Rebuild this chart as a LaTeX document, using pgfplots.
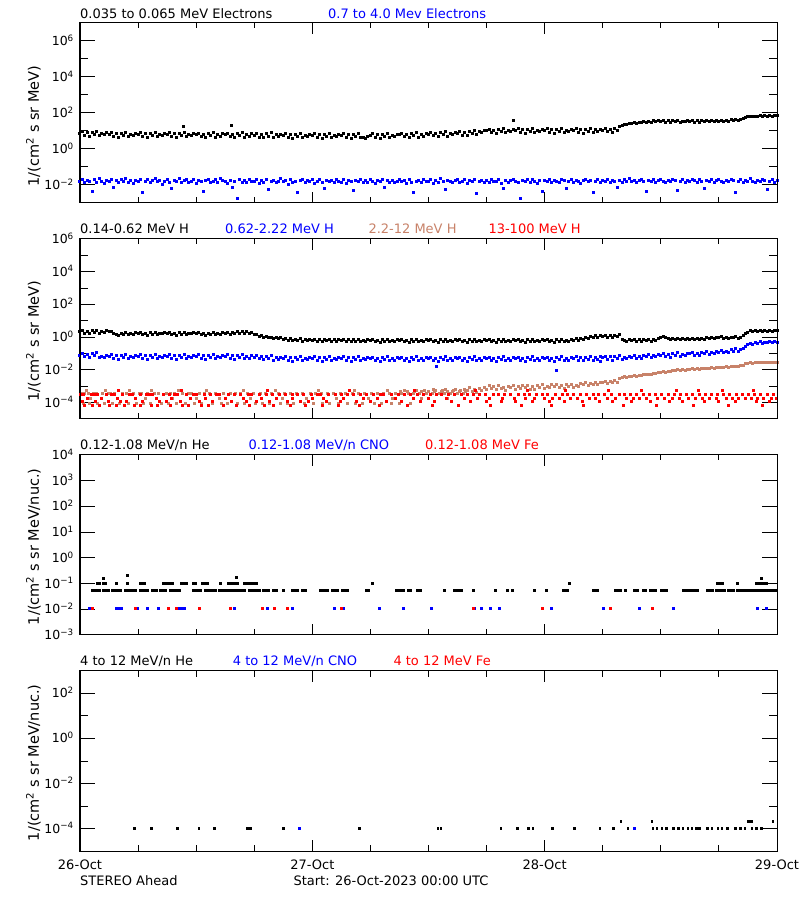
\documentclass[border=0pt]{standalone}
\usepackage{fontspec}
\setmainfont{DejaVu Sans}
\usepackage{pgfplots}
\usepackage{pgfplotstable}
\pgfplotsset{compat=1.18}
\definecolor{hbrown}{RGB}{200,130,105}
\definecolor{iblue}{RGB}{0,0,255}
\definecolor{ired}{RGB}{255,0,0}

\pgfplotstableread{
h E1 E2 H1 H2
0.00 7.2 0.016 2.2 0.080
0.25 9.0 0.021 2.5 0.100
0.50 5.8 0.013 1.8 0.064
0.75 8.1 0.018 2.3 0.090
1.00 5.2 0.015 1.7 0.058
1.25 8.6 0.0045 2.4 0.104
1.50 6.5 0.019 2.0 0.072
1.75 9.4 0.014 2.6 0.110
2.00 5.5 0.022 1.8 0.055
2.25 7.6 0.016 2.2 0.070
2.50 6.2 0.012 1.9 0.059
2.75 8.4 0.018 2.4 0.080
3.00 6.3 0.015 2.1 0.065
3.25 8.0 0.020 2.3 0.083
3.50 5.0 0.0075 1.8 0.052
3.75 7.1 0.017 1.5 0.073
4.00 4.4 0.013 1.3 0.046
4.25 7.6 0.019 1.7 0.078
4.50 5.7 0.016 1.5 0.058
4.75 8.5 0.024 1.9 0.088
5.00 4.8 0.014 1.4 0.050
5.25 6.7 0.018 1.8 0.069
5.50 5.4 0.012 1.5 0.056
5.75 7.4 0.017 1.9 0.077
6.00 6.3 0.015 1.7 0.065
6.25 8.1 0.021 2.0 0.083
6.50 5.0 0.0038 1.4 0.052
6.75 7.1 0.016 1.8 0.073
7.00 4.4 0.019 1.3 0.046
7.25 7.6 0.013 1.9 0.078
7.50 5.7 0.017 1.5 0.058
7.75 8.5 0.022 2.0 0.088
8.00 4.8 0.015 1.4 0.050
8.25 6.7 0.018 1.8 0.069
8.50 5.4 0.011 1.6 0.056
8.75 7.4 0.016 1.9 0.077
9.00 6.3 0.020 1.7 0.065
9.25 8.1 0.014 2.0 0.083
9.50 5.0 0.0062 1.4 0.052
9.75 7.1 0.018 1.8 0.073
10.00 4.4 0.015 1.3 0.046
10.25 7.6 0.023 1.9 0.078
10.50 5.7 0.013 1.5 0.058
10.75 8.5 0.017 2.0 0.088
11.00 4.8 0.019 1.4 0.050
11.25 6.7 0.014 1.8 0.069
11.50 5.4 0.016 1.6 0.056
11.75 7.4 0.021 1.9 0.077
12.00 6.0 0.012 1.6 0.065
12.25 7.7 0.018 1.9 0.083
12.50 4.8 0.015 1.4 0.052
12.75 6.7 0.0042 1.8 0.073
13.00 4.2 0.017 1.3 0.046
13.25 7.2 0.020 1.8 0.078
13.50 5.4 0.013 1.5 0.058
13.75 8.1 0.016 1.9 0.088
14.00 4.6 0.019 1.4 0.050
14.25 6.4 0.014 1.8 0.069
14.50 5.2 0.022 1.5 0.056
14.75 7.1 0.017 1.9 0.077
15.00 6.0 0.015 1.7 0.065
15.25 7.7 0.012 2.0 0.083
15.50 4.8 0.018 1.5 0.052
15.75 6.7 0.0070 1.9 0.073
16.00 4.2 0.016 1.6 0.044
16.25 7.2 0.0017 2.2 0.074
16.50 5.4 0.020 1.8 0.055
16.75 8.1 0.014 2.3 0.083
17.00 4.6 0.017 1.7 0.047
17.25 6.4 0.013 2.1 0.065
17.50 5.2 0.021 1.8 0.053
17.75 7.1 0.016 1.9 0.073
18.00 5.8 0.015 1.5 0.061
18.25 7.4 0.019 1.4 0.078
18.50 4.6 0.012 1.1 0.049
18.75 6.5 0.017 1.2 0.069
19.00 4.1 0.014 1.0 0.042
19.25 7.0 0.020 1.15 0.070
19.50 5.2 0.0055 0.92 0.050
19.75 7.8 0.016 1.0 0.075
20.00 4.5 0.018 0.78 0.040
20.25 6.2 0.013 0.92 0.056
20.50 5.0 0.016 0.80 0.045
20.75 6.8 0.022 0.90 0.061
21.00 5.6 0.015 0.72 0.050
21.25 7.2 0.017 0.84 0.064
21.50 4.5 0.011 0.66 0.040
21.75 6.3 0.019 0.78 0.056
22.00 3.9 0.014 0.62 0.035
22.25 6.7 0.016 0.76 0.060
22.50 5.0 0.0036 0.64 0.045
22.75 7.6 0.018 0.79 0.068
23.00 4.3 0.021 0.58 0.038
23.25 5.9 0.013 0.72 0.053
23.50 4.8 0.017 0.60 0.043
23.75 6.6 0.015 0.74 0.059
24.00 5.6 0.019 0.66 0.050
24.25 7.2 0.012 0.76 0.064
24.50 4.5 0.016 0.56 0.040
24.75 6.3 0.020 0.70 0.056
25.00 3.9 0.014 0.54 0.035
25.25 6.7 0.0066 0.72 0.060
25.50 5.0 0.017 0.60 0.045
25.75 7.6 0.015 0.74 0.068
26.00 4.3 0.018 0.55 0.038
26.25 5.9 0.013 0.69 0.053
26.50 4.8 0.021 0.58 0.043
26.75 6.6 0.016 0.71 0.059
27.00 5.6 0.014 0.62 0.050
27.25 7.2 0.019 0.74 0.064
27.50 4.5 0.012 0.53 0.040
27.75 6.3 0.017 0.68 0.056
28.00 3.9 0.015 0.52 0.035
28.25 6.7 0.0048 0.70 0.060
28.50 5.0 0.018 0.57 0.045
28.75 7.6 0.016 0.72 0.068
29.00 4.3 0.020 0.53 0.038
29.25 4.6 0.013 0.67 0.053
29.50 3.6 0.017 0.56 0.043
29.75 4.9 0.014 0.70 0.059
30.00 5.6 0.019 0.60 0.047
30.25 7.2 0.016 0.72 0.060
30.50 4.5 0.012 0.52 0.038
30.75 6.3 0.018 0.67 0.053
31.00 3.9 0.015 0.50 0.033
31.25 6.7 0.021 0.69 0.056
31.50 5.0 0.0072 0.56 0.042
31.75 7.6 0.017 0.71 0.063
32.00 4.3 0.014 0.52 0.036
32.25 5.9 0.018 0.66 0.050
32.50 4.8 0.013 0.55 0.040
32.75 6.6 0.016 0.69 0.055
33.00 6.0 0.020 0.60 0.047
33.25 7.7 0.015 0.72 0.060
33.50 4.8 0.017 0.52 0.038
33.75 6.7 0.012 0.67 0.053
34.00 4.2 0.019 0.50 0.033
34.25 7.2 0.014 0.69 0.056
34.50 5.4 0.0040 0.56 0.042
34.75 8.1 0.016 0.71 0.063
35.00 4.6 0.018 0.52 0.036
35.25 6.4 0.013 0.66 0.050
35.50 5.2 0.021 0.55 0.040
35.75 7.1 0.016 0.69 0.055
36.00 6.6 0.015 0.60 0.047
36.25 8.4 0.019 0.72 0.060
36.50 5.3 0.012 0.52 0.038
36.75 7.4 0.017 0.67 0.053
37.00 4.7 0.014 0.50 0.033
37.25 8.0 0.022 0.69 0.056
37.50 6.0 0.016 0.56 0.042
37.75 8.9 0.0058 0.71 0.063
38.00 5.2 0.018 0.52 0.036
38.25 7.3 0.015 0.66 0.050
38.50 6.0 0.013 0.55 0.040
38.75 8.1 0.017 0.69 0.055
39.00 7.4 0.020 0.60 0.047
39.25 9.5 0.014 0.72 0.060
39.50 5.9 0.016 0.52 0.038
39.75 8.3 0.019 0.67 0.053
40.00 5.6 0.012 0.50 0.033
40.25 9.5 0.017 0.69 0.056
40.50 7.1 0.015 0.56 0.042
40.75 10.6 0.021 0.71 0.063
41.00 6.6 0.0035 0.52 0.036
41.25 9.2 0.016 0.66 0.050
41.50 7.8 0.018 0.55 0.040
41.75 10.5 0.013 0.69 0.055
42.00 10.0 0.017 0.60 0.047
42.25 12.8 0.014 0.72 0.060
42.50 8.0 0.020 0.52 0.038
42.75 11.2 0.016 0.67 0.053
43.00 7.4 0.015 0.50 0.033
43.25 12.6 0.019 0.69 0.056
43.50 9.5 0.012 0.56 0.042
43.75 13.8 0.0068 0.71 0.063
44.00 8.0 0.017 0.52 0.036
44.25 11.1 0.014 0.66 0.050
44.50 9.0 0.018 0.55 0.040
44.75 12.4 0.021 0.69 0.055
45.00 10.5 0.016 0.60 0.047
45.25 13.4 0.013 0.72 0.060
45.50 8.4 0.0017 0.52 0.038
45.75 11.8 0.017 0.67 0.053
46.00 7.4 0.015 0.50 0.033
46.25 12.6 0.019 0.69 0.056
46.50 9.5 0.014 0.56 0.042
46.75 14.2 0.020 0.71 0.063
47.00 8.0 0.016 0.52 0.036
47.25 11.1 0.012 0.66 0.050
47.50 9.0 0.018 0.55 0.040
47.75 12.4 0.0045 0.69 0.055
48.00 10.3 0.017 0.60 0.047
48.25 13.2 0.015 0.72 0.060
48.50 8.2 0.021 0.52 0.038
48.75 11.5 0.014 0.67 0.053
49.00 7.2 0.018 0.50 0.033
49.25 12.4 0.016 0.69 0.056
49.50 9.3 0.013 0.56 0.042
49.75 13.6 0.019 0.71 0.063
50.00 7.8 0.017 0.52 0.036
50.25 10.8 0.0062 0.66 0.050
50.50 8.8 0.015 0.57 0.040
50.75 12.1 0.020 0.70 0.055
51.00 10.2 0.014 0.64 0.049
51.25 13.1 0.018 0.82 0.062
51.50 8.2 0.016 0.66 0.040
51.75 11.5 0.012 0.88 0.056
52.00 7.6 0.017 0.74 0.036
52.25 12.9 0.021 0.96 0.060
52.50 9.8 0.015 0.82 0.045
52.75 14.4 0.018 1.05 0.068
53.00 8.4 0.0038 0.96 0.040
53.25 11.7 0.016 1.25 0.056
53.50 9.4 0.019 1.02 0.046
53.75 12.8 0.014 1.30 0.063
54.00 11.3 0.017 1.10 0.055
54.25 14.5 0.015 1.35 0.070
54.50 9.0 0.020 1.02 0.044
54.75 12.7 0.013 1.30 0.062
55.00 8.0 0.018 0.98 0.039
55.25 13.5 0.016 1.28 0.066
55.50 10.2 0.0070 1.12 0.050
55.75 17 0.017 1.55 0.072
56.00 20 0.014 0.70 0.042
56.25 24 0.019 0.62 0.061
56.50 22 0.016 0.54 0.049
56.75 27 0.022 0.70 0.068
57.00 25 0.015 0.60 0.059
57.25 30 0.018 0.74 0.078
57.50 26 0.013 0.58 0.050
57.75 31 0.017 0.72 0.070
58.00 29 0.020 0.55 0.047
58.25 35 0.016 0.74 0.080
58.50 30 0.0046 0.60 0.062
58.75 35 0.018 0.76 0.088
59.00 30 0.015 0.58 0.054
59.25 36 0.019 0.72 0.078
59.50 32 0.014 0.62 0.066
59.75 36 0.017 0.82 0.086
60.00 33 0.021 0.98 0.078
60.25 38 0.016 1.10 0.096
60.50 31 0.013 0.94 0.066
60.75 36 0.018 0.86 0.090
61.00 30 0.015 0.70 0.060
61.25 37 0.020 0.86 0.098
61.50 33 0.017 0.72 0.078
61.75 38 0.0052 0.88 0.110
62.00 31 0.016 0.68 0.068
62.25 35 0.019 0.84 0.090
62.50 33 0.014 0.72 0.078
62.75 37 0.018 0.86 0.100
63.00 34 0.015 0.76 0.095
63.25 39 0.021 0.88 0.120
63.50 31 0.017 0.68 0.080
63.75 36 0.013 0.84 0.106
64.00 30 0.019 0.68 0.074
64.25 37 0.016 0.86 0.120
64.50 33 0.0066 0.74 0.100
64.75 38 0.018 0.90 0.132
65.00 32 0.015 0.80 0.090
65.25 36 0.020 0.96 0.118
65.50 34 0.014 0.84 0.106
65.75 38 0.017 1.02 0.130
66.00 35 0.019 0.90 0.124
66.25 40 0.016 1.04 0.150
66.50 34 0.013 0.82 0.108
66.75 38 0.018 0.98 0.140
67.00 34 0.015 0.80 0.110
67.25 41 0.021 1.02 0.170
67.50 37 0.017 0.90 0.140
67.75 43 0.0040 1.04 0.190
68.00 39 0.016 0.86 0.138
68.25 43 0.019 1.00 0.180
68.50 48 0.014 1.20 0.190
68.75 56 0.018 1.60 0.26
69.00 60 0.015 2.00 0.36
69.25 66 0.022 2.50 0.44
69.50 62 0.016 2.10 0.38
69.75 68 0.013 2.55 0.48
70.00 64 0.018 2.20 0.42
70.25 70 0.015 2.60 0.52
70.50 65 0.020 2.25 0.44
70.75 71 0.017 2.55 0.50
71.00 66 0.0058 2.20 0.45
71.25 72 0.016 2.60 0.53
71.50 68 0.019 2.30 0.47
71.75 73 0.014 2.60 0.52
72.00 70 0.017 2.40 0.50
}\dense

\pgfplotstableread{
h H3
40.00 5.8e-4
40.25 8.0e-4
40.50 4.6e-4
40.75 6.6e-4
41.00 3.9e-4
41.25 7.4e-4
41.50 5.2e-4
41.75 8.6e-4
42.00 6.2e-4
42.25 1.05e-3
42.50 7.0e-4
42.75 9.6e-4
43.00 6.0e-4
43.25 1.1e-3
43.50 7.6e-4
43.75 9.0e-4
44.00 5.8e-4
44.25 1.0e-3
44.50 8.2e-4
44.75 1.15e-3
45.00 6.4e-4
45.25 9.4e-4
45.50 7.2e-4
45.75 1.08e-3
46.00 8.5e-4
46.25 1.15e-3
46.50 6.8e-4
46.75 9.8e-4
47.00 6.2e-4
47.25 1.12e-3
47.50 8.0e-4
47.75 1.2e-3
48.00 7.0e-4
48.25 1.0e-3
48.50 8.6e-4
48.75 1.2e-3
49.00 1.0e-3
49.25 1.3e-3
49.50 8.0e-4
49.75 1.12e-3
50.00 7.2e-4
50.25 1.25e-3
50.50 9.2e-4
50.75 1.35e-3
51.00 8.2e-4
51.25 1.15e-3
51.50 1.0e-3
51.75 1.38e-3
52.00 1.2e-3
52.25 1.6e-3
52.50 1.1e-3
52.75 1.5e-3
53.00 1.25e-3
53.25 1.7e-3
53.50 1.35e-3
53.75 1.65e-3
54.00 1.6e-3
54.25 1.95e-3
54.50 1.5e-3
54.75 2.0e-3
55.00 1.7e-3
55.25 2.1e-3
55.50 1.8e-3
55.75 2.8e-3
56.00 3.3e-3
56.25 3.8e-3
56.50 3.4e-3
56.75 4.0e-3
57.00 3.9e-3
57.25 4.5e-3
57.50 4.1e-3
57.75 4.7e-3
58.00 4.6e-3
58.25 5.3e-3
58.50 4.9e-3
58.75 5.6e-3
59.00 5.5e-3
59.25 6.3e-3
59.50 5.9e-3
59.75 6.8e-3
60.00 6.6e-3
60.25 7.7e-3
60.50 7.2e-3
60.75 8.3e-3
61.00 8.2e-3
61.25 9.4e-3
61.50 8.7e-3
61.75 9.9e-3
62.00 9.3e-3
62.25 1.06e-2
62.50 9.8e-3
62.75 1.1e-2
63.00 1.02e-2
63.25 1.15e-2
63.50 1.06e-2
63.75 1.2e-2
64.00 1.1e-2
64.25 1.24e-2
64.50 1.14e-2
64.75 1.28e-2
65.00 1.2e-2
65.25 1.34e-2
65.50 1.25e-2
65.75 1.38e-2
66.00 1.32e-2
66.25 1.48e-2
66.50 1.38e-2
66.75 1.52e-2
67.00 1.45e-2
67.25 1.62e-2
67.50 1.52e-2
67.75 1.68e-2
68.00 1.6e-2
68.25 1.8e-2
68.50 1.95e-2
68.75 2.3e-2
69.00 2.45e-2
69.25 2.7e-2
69.50 2.55e-2
69.75 2.8e-2
70.00 2.65e-2
70.25 2.9e-2
70.50 2.7e-2
70.75 2.95e-2
71.00 2.75e-2
71.25 3.0e-2
71.50 2.8e-2
71.75 3.0e-2
72.00 2.9e-2
}\brownc

\pgfplotsset{
  panelframe/.style={
    scale only axis, width=697pt, height=180pt,
    xmin=0, xmax=72, xtick=\empty,
    axis line style={line width=1pt},
    tick style={line width=1pt, black},
    major tick length=15pt, minor tick length=8pt,
    tick align=inside,
    ytick pos=both, yticklabel pos=left,
    yticklabel style={font=\fontsize{12.5}{14}\selectfont, anchor=base east, inner sep=0pt, xshift=-6pt, yshift=-4.5pt},
    ylabel style={font=\fontsize{14.5}{17}\selectfont, anchor=center},
  },
  tickframe/.style={
    scale only axis, width=697pt, height=180pt,
    xmin=0, xmax=72, ymin=0, ymax=1, ytick=\empty,
    xtick={0,24,48,72}, minor xtick={6,12,18,30,36,42,54,60,66},
    xticklabels={},
    axis line style={line width=1pt},
    tick style={line width=1pt, black},
    major tick length=11pt, minor tick length=5.5pt,
    tick align=inside, xtick pos=both,
  },
  pdots/.style={only marks, mark=square*, mark size=1pt, mark options={line width=0pt}},
  pdotsmall/.style={only marks, mark=square*, mark size=0.8pt, mark options={line width=0pt}},
}

\begin{document}
\begin{tikzpicture}
\path[use as bounding box, fill=white] (0,0) rectangle (800pt,900pt);

% ---------------- Panel 1 ----------------
\begin{axis}[panelframe, ymode=log, at={(80pt,697pt)}, anchor=south west,
  ymin=1e-3, ymax=1e7,
  ytick={1e-2,1,1e2,1e4,1e6},
  yticklabels={10\textsuperscript{−2},10\textsuperscript{0},10\textsuperscript{2},10\textsuperscript{4},10\textsuperscript{6}},
  minor ytick={1e-1,1e1,1e3,1e5},
  ylabel={1/(cm\textsuperscript{2} s sr MeV)},
  ylabel style={at={(axis description cs:-0.0667,0.428)}}]
\addplot[pdots, black] table[x=h, y=E1] {\dense};
\addplot[pdots, black] coordinates {(10.7,17) (15.6,20) (44.8,37)};
\addplot[pdots, iblue] table[x=h, y=E2] {\dense};
\end{axis}
\begin{axis}[tickframe, at={(80pt,697pt)}, anchor=south west]
\end{axis}

% ---------------- Panel 2 ----------------
\begin{axis}[panelframe, ymode=log, at={(80pt,481pt)}, anchor=south west,
  ymin=1e-5, ymax=1e6,
  ytick={1e-4,1e-2,1,1e2,1e4,1e6},
  yticklabels={10\textsuperscript{−4},10\textsuperscript{−2},10\textsuperscript{0},10\textsuperscript{2},10\textsuperscript{4},10\textsuperscript{6}},
  minor ytick={1e-3,1e-1,1e1,1e3,1e5},
  ylabel={1/(cm\textsuperscript{2} s sr MeV)},
  ylabel style={at={(axis description cs:-0.0667,0.433)}}]
\addplot[pdots, black] table[x=h, y=H1] {\dense};
\addplot[pdots, iblue] table[x=h, y=H2] {\dense};
\addplot[pdots, iblue] coordinates {(36.8,0.016) (49.2,0.009) (53.8,0.032)};
\addplot[pdots, hbrown] coordinates {
(0.2,3.4e-4) (0.5,3.4e-4) (0.9,3.4e-4) (1.4,3.4e-4) (1.7,3.4e-4) (2.3,3.4e-4) (2.9,3.4e-4) (3.2,3.4e-4)
(3.6,3.4e-4) (4.4,3.4e-4) (4.8,3.4e-4) (5.5,3.4e-4) (6.1,3.4e-4) (6.4,3.4e-4) (7.0,3.4e-4) (7.7,3.4e-4)
(8.1,3.4e-4) (8.9,3.4e-4) (9.3,3.4e-4) (9.8,3.4e-4) (10.6,3.4e-4) (11.2,3.4e-4) (11.5,3.4e-4) (12.3,3.4e-4)
(12.9,3.4e-4) (13.4,3.4e-4) (14.0,3.4e-4) (14.8,3.4e-4) (15.5,3.4e-4) (16.1,3.4e-4) (16.6,3.4e-4) (17.3,3.4e-4)
(17.9,3.4e-4) (18.6,3.4e-4) (19.2,3.4e-4) (19.8,3.4e-4) (20.5,3.4e-4) (21.1,3.4e-4) (21.7,3.4e-4) (22.4,3.4e-4)
(23.0,3.4e-4) (23.8,3.4e-4) (24.3,3.4e-4) (24.9,3.4e-4) (25.6,3.4e-4) (26.2,3.4e-4) (26.9,3.4e-4) (27.4,3.4e-4)
(28.1,3.4e-4) (28.8,3.4e-4) (29.4,3.4e-4) (30.1,3.4e-4) (30.7,3.4e-4) (31.3,3.4e-4) (32.0,3.4e-4) (32.6,3.4e-4)
(33.2,3.4e-4) (33.9,3.4e-4) (34.5,3.4e-4) (35.1,3.4e-4) (35.8,3.4e-4) (36.4,3.4e-4) (37.1,3.4e-4) (37.7,3.4e-4)
(38.3,3.4e-4) (39.0,3.4e-4) (39.6,3.4e-4)
(0.7,5.9e-4) (2.6,5.9e-4) (5.1,5.9e-4) (7.4,5.9e-4) (10.2,5.9e-4) (13.1,5.9e-4) (16.9,5.9e-4) (20.2,5.9e-4)
(24.6,5.9e-4) (28.4,5.9e-4) (31.8,5.9e-4) (33.5,5.9e-4) (34.8,5.9e-4) (35.6,5.9e-4) (36.7,5.9e-4) (37.4,5.9e-4)
(38.6,5.9e-4) (39.3,5.9e-4) (39.8,5.9e-4)
(33.1,4.5e-4) (33.8,4.5e-4) (34.6,4.5e-4) (35.3,4.5e-4) (36.0,4.5e-4) (36.6,4.5e-4) (37.3,4.5e-4) (38.0,4.5e-4)
(38.5,4.5e-4) (39.2,4.5e-4) (39.8,4.5e-4) (36.5,6.5e-4) (37.8,6.5e-4) (38.8,6.5e-4) (39.7,6.5e-4)
(1.1,1.8e-4) (3.9,1.8e-4) (6.8,1.8e-4) (9.6,1.8e-4) (12.0,1.8e-4) (14.4,1.8e-4) (17.6,1.8e-4) (20.9,1.8e-4)
(23.4,1.8e-4) (26.5,1.8e-4) (29.8,1.8e-4) (32.3,1.8e-4) (35.3,1.8e-4) (38.0,1.8e-4)
(0.4,8.5e-5) (1.0,8.5e-5) (1.8,8.5e-5) (2.5,8.5e-5) (3.4,8.5e-5) (4.1,8.5e-5) (5.0,8.5e-5) (5.8,8.5e-5)
(6.6,8.5e-5) (7.3,8.5e-5) (8.4,8.5e-5) (9.1,8.5e-5) (10.0,8.5e-5) (10.9,8.5e-5) (11.8,8.5e-5) (12.6,8.5e-5)
(13.7,8.5e-5) (14.6,8.5e-5) (15.2,8.5e-5) (16.3,8.5e-5) (17.0,8.5e-5) (18.1,8.5e-5) (18.9,8.5e-5) (19.6,8.5e-5)
(20.7,8.5e-5) (21.4,8.5e-5) (22.1,8.5e-5) (23.2,8.5e-5) (24.1,8.5e-5) (25.0,8.5e-5) (25.8,8.5e-5) (26.7,8.5e-5)
(27.6,8.5e-5) (28.5,8.5e-5) (29.2,8.5e-5) (30.4,8.5e-5) (31.1,8.5e-5) (32.2,8.5e-5) (33.0,8.5e-5) (34.1,8.5e-5)
};
\addplot[pdots, hbrown] table[x=h, y=H3] {\brownc};
\addplot[pdots, ired] coordinates {
(0.1,3.1e-4) (0.4,3.1e-4) (1.2,3.1e-4) (1.5,3.1e-4) (1.8,3.1e-4) (2.7,3.1e-4) (3.3,3.1e-4) (3.6,3.1e-4)
(4.4,3.1e-4) (5.1,3.1e-4) (5.4,3.1e-4) (6.2,3.1e-4) (6.9,3.1e-4) (7.2,3.1e-4) (7.5,3.1e-4) (8.6,3.1e-4)
(9.2,3.1e-4) (9.8,3.1e-4) (10.1,3.1e-4) (11.0,3.1e-4) (11.7,3.1e-4) (12.0,3.1e-4) (12.9,3.1e-4) (13.5,3.1e-4)
(14.1,3.1e-4) (14.4,3.1e-4) (15.3,3.1e-4) (16.0,3.1e-4) (16.6,3.1e-4) (17.4,3.1e-4) (17.7,3.1e-4) (18.5,3.1e-4)
(19.3,3.1e-4) (19.9,3.1e-4) (20.6,3.1e-4) (21.2,3.1e-4) (21.9,3.1e-4) (22.5,3.1e-4) (23.1,3.1e-4) (23.9,3.1e-4)
(24.5,3.1e-4) (24.8,3.1e-4) (25.7,3.1e-4) (26.4,3.1e-4) (27.0,3.1e-4) (27.6,3.1e-4) (28.3,3.1e-4) (29.0,3.1e-4)
(29.6,3.1e-4) (30.3,3.1e-4) (31.0,3.1e-4) (31.4,3.1e-4) (32.2,3.1e-4) (32.9,3.1e-4) (33.5,3.1e-4) (34.1,3.1e-4)
(34.9,3.1e-4) (35.5,3.1e-4) (36.2,3.1e-4) (36.8,3.1e-4) (37.3,3.1e-4) (38.1,3.1e-4) (38.7,3.1e-4) (39.4,3.1e-4)
(40.0,3.1e-4) (40.6,3.1e-4) (41.3,3.1e-4) (41.9,3.1e-4) (42.7,3.1e-4) (43.2,3.1e-4) (43.8,3.1e-4) (44.5,3.1e-4)
(45.3,3.1e-4) (45.9,3.1e-4) (46.4,3.1e-4) (47.2,3.1e-4) (47.8,3.1e-4) (48.3,3.1e-4) (49.1,3.1e-4) (49.8,3.1e-4)
(50.4,3.1e-4) (51.0,3.1e-4) (51.7,3.1e-4) (52.3,3.1e-4) (53.0,3.1e-4) (53.6,3.1e-4) (54.2,3.1e-4) (54.9,3.1e-4)
(55.7,3.1e-4) (56.2,3.1e-4) (56.9,3.1e-4) (57.5,3.1e-4) (58.2,3.1e-4) (58.8,3.1e-4) (59.4,3.1e-4) (60.1,3.1e-4)
(60.8,3.1e-4) (61.4,3.1e-4) (62.0,3.1e-4) (62.6,3.1e-4) (63.3,3.1e-4) (64.0,3.1e-4) (64.6,3.1e-4) (65.2,3.1e-4)
(65.9,3.1e-4) (66.5,3.1e-4) (67.1,3.1e-4) (67.8,3.1e-4) (68.4,3.1e-4) (69.1,3.1e-4) (69.7,3.1e-4) (70.3,3.1e-4)
(71.0,3.1e-4) (71.6,3.1e-4)
(0.8,1.8e-4) (2.2,1.8e-4) (3.9,1.8e-4) (5.7,1.8e-4) (7.9,1.8e-4) (9.5,1.8e-4) (11.4,1.8e-4) (13.0,1.8e-4)
(15.0,1.8e-4) (16.9,1.8e-4) (18.8,1.8e-4) (20.3,1.8e-4) (22.0,1.8e-4) (24.0,1.8e-4) (25.2,1.8e-4) (27.2,1.8e-4)
(29.3,1.8e-4) (30.7,1.8e-4) (32.6,1.8e-4) (34.4,1.8e-4) (36.0,1.8e-4) (37.9,1.8e-4) (39.7,1.8e-4) (41.1,1.8e-4)
(42.3,1.8e-4) (43.6,1.8e-4) (44.9,1.8e-4) (46.0,1.8e-4) (46.9,1.8e-4) (48.0,1.8e-4) (48.8,1.8e-4) (49.5,1.8e-4)
(50.7,1.8e-4) (51.4,1.8e-4) (52.6,1.8e-4) (53.3,1.8e-4) (54.5,1.8e-4) (55.3,1.8e-4) (56.5,1.8e-4) (57.2,1.8e-4)
(57.8,1.8e-4) (58.5,1.8e-4) (59.7,1.8e-4) (60.4,1.8e-4) (61.2,1.8e-4) (61.9,1.8e-4) (62.9,1.8e-4) (63.6,1.8e-4)
(64.3,1.8e-4) (65.0,1.8e-4) (65.7,1.8e-4) (66.8,1.8e-4) (67.4,1.8e-4) (68.0,1.8e-4) (68.7,1.8e-4) (69.4,1.8e-4)
(70.0,1.8e-4) (70.6,1.8e-4) (71.4,1.8e-4) (71.9,1.8e-4)
(0.3,1.2e-4) (1.6,1.2e-4) (2.9,1.2e-4) (4.2,1.2e-4) (4.8,1.2e-4) (6.5,1.2e-4) (8.2,1.2e-4) (8.9,1.2e-4)
(10.4,1.2e-4) (12.3,1.2e-4) (13.7,1.2e-4) (15.6,1.2e-4) (17.2,1.2e-4) (18.2,1.2e-4) (19.6,1.2e-4) (21.4,1.2e-4)
(22.8,1.2e-4) (23.6,1.2e-4) (25.5,1.2e-4) (26.9,1.2e-4) (28.6,1.2e-4) (30.0,1.2e-4) (31.7,1.2e-4) (33.2,1.2e-4)
(35.2,1.2e-4) (36.6,1.2e-4) (38.4,1.2e-4) (40.3,1.2e-4) (42.0,1.2e-4) (43.5,1.2e-4) (45.0,1.2e-4) (46.7,1.2e-4)
(48.5,1.2e-4) (50.0,1.2e-4) (51.9,1.2e-4) (53.7,1.2e-4) (55.0,1.2e-4) (57.0,1.2e-4) (58.9,1.2e-4) (60.9,1.2e-4)
(62.2,1.2e-4) (64.5,1.2e-4) (66.0,1.2e-4) (67.7,1.2e-4) (69.9,1.2e-4) (71.2,1.2e-4)
(0.5,6.3e-5) (1.3,6.3e-5) (2.0,6.3e-5) (3.0,6.3e-5) (3.8,6.3e-5) (4.6,6.3e-5) (5.6,6.3e-5) (6.3,6.3e-5)
(7.4,6.3e-5) (8.0,6.3e-5) (9.4,6.3e-5) (10.6,6.3e-5) (11.2,6.3e-5) (12.6,6.3e-5) (13.3,6.3e-5) (14.8,6.3e-5)
(16.2,6.3e-5) (17.5,6.3e-5) (19.1,6.3e-5) (20.0,6.3e-5) (21.7,6.3e-5) (23.3,6.3e-5) (25.0,6.3e-5) (26.7,6.3e-5)
(28.9,6.3e-5) (30.9,6.3e-5) (33.8,6.3e-5) (36.4,6.3e-5) (39.1,6.3e-5) (42.4,6.3e-5) (45.6,6.3e-5) (48.7,6.3e-5)
(52.0,6.3e-5) (56.1,6.3e-5) (59.6,6.3e-5) (63.4,6.3e-5) (67.0,6.3e-5) (70.5,6.3e-5)
(4.0,5.9e-4) (10.5,5.9e-4) (19.4,5.9e-4) (27.8,5.9e-4) (34.6,5.9e-4) (40.9,5.9e-4) (46.2,5.9e-4) (50.2,5.9e-4)
(54.6,5.9e-4) (58.0,5.9e-4) (61.6,5.9e-4) (63.9,5.9e-4) (66.4,5.9e-4) (69.6,5.9e-4)
};
\end{axis}
\begin{axis}[tickframe, at={(80pt,481pt)}, anchor=south west]
\end{axis}

% ---------------- Panel 3 ----------------
\begin{axis}[panelframe, ymode=log, at={(80pt,265pt)}, anchor=south west,
  ymin=1e-3, ymax=1e4,
  ytick={1e-3,1e-2,1e-1,1,1e1,1e2,1e3,1e4},
  yticklabels={10\textsuperscript{−3},10\textsuperscript{−2},10\textsuperscript{−1},10\textsuperscript{0},10\textsuperscript{1},10\textsuperscript{2},10\textsuperscript{3},10\textsuperscript{4}},
  yminorticks=false,
  ylabel={1/(cm\textsuperscript{2} s sr MeV/nuc.)},
  ylabel style={at={(axis description cs:-0.0667,0.49)}}]
\addplot[pdots, black] coordinates {
(1.3,0.053) (1.55,0.053) (1.8,0.053) (2.05,0.053)
(2.4,0.053) (2.65,0.053) (2.9,0.053) (3.4,0.053) (3.65,0.053) (3.9,0.053) (4.15,0.053) (4.65,0.053) (4.9,0.053)
(5.2,0.053) (5.45,0.053) (5.7,0.053) (6.2,0.053) (6.45,0.053) (6.7,0.053) (6.95,0.053) (7.45,0.053) (7.7,0.053) (7.95,0.053)
(8.3,0.053) (8.55,0.053) (8.8,0.053) (9.3,0.053) (9.55,0.053) (9.8,0.053) (10.05,0.053) (10.3,0.053)
(11.7,0.053) (11.95,0.053) (12.2,0.053) (12.45,0.053) (12.95,0.053) (13.2,0.053) (13.45,0.053) (13.7,0.053)
(13.95,0.053) (14.45,0.053) (14.7,0.053) (14.95,0.053) (15.2,0.053) (15.45,0.053) (15.7,0.053)
(16.0,0.053) (16.25,0.053) (16.5,0.053) (16.75,0.053) (17.0,0.053) (17.5,0.053) (17.75,0.053) (18.0,0.053)
(18.25,0.053) (18.5,0.053) (19.0,0.053) (19.25,0.053) (19.5,0.053) (20.0,0.053) (20.25,0.053)
(21.0,0.053) (22.0,0.053) (22.25,0.053) (22.5,0.053) (23.0,0.053) (23.25,0.053)
(24.8,0.053) (25.05,0.053) (25.3,0.053) (25.55,0.053) (26.1,0.053) (26.35,0.053) (26.6,0.053) (27.1,0.053)
(27.35,0.053) (27.6,0.053) (29.6,0.053) (29.85,0.053)
(32.7,0.053) (32.95,0.053) (33.2,0.053) (33.45,0.053) (33.9,0.053) (34.15,0.053) (34.9,0.053) (35.15,0.053)
(37.7,0.053) (38.7,0.053) (38.95,0.053) (39.2,0.053) (39.45,0.053)
(40.6,0.053) (42.9,0.053) (44.2,0.053) (44.7,0.053) (47.0,0.053) (48.2,0.053)
(49.9,0.053) (50.15,0.053) (50.4,0.053) (53.0,0.053) (53.25,0.053) (53.5,0.053)
(55.3,0.053) (55.55,0.053) (55.8,0.053) (56.3,0.053) (57.3,0.053) (57.55,0.053) (58.2,0.053) (58.45,0.053)
(58.9,0.053) (59.15,0.053) (59.4,0.053) (60.1,0.053) (60.35,0.053) (60.6,0.053)
(62.3,0.053) (62.55,0.053) (62.8,0.053) (63.05,0.053) (63.3,0.053) (63.55,0.053) (63.8,0.053)
(64.8,0.053) (65.05,0.053) (65.3,0.053) (65.8,0.053) (66.05,0.053) (66.3,0.053) (66.55,0.053) (67.0,0.053)
(67.25,0.053) (67.5,0.053)
(67.9,0.053) (68.15,0.053) (68.4,0.053) (68.65,0.053) (68.9,0.053) (69.15,0.053) (69.4,0.053) (69.65,0.053)
(69.9,0.053) (70.15,0.053) (70.4,0.053) (70.65,0.053) (70.9,0.053) (71.15,0.053) (71.4,0.053) (71.65,0.053) (71.9,0.053)
(1.8,0.1) (2.05,0.1) (2.4,0.1) (2.65,0.1) (3.8,0.1) (4.9,0.1) (6.2,0.1) (6.45,0.1) (6.7,0.1)
(8.6,0.1) (8.85,0.1) (9.1,0.1) (9.35,0.1) (9.6,0.1) (10.5,0.1) (10.75,0.1) (11.0,0.1) (11.7,0.1) (11.95,0.1)
(12.7,0.1) (12.95,0.1) (13.2,0.1) (14.5,0.1) (15.3,0.1) (15.55,0.1) (15.8,0.1) (16.05,0.1) (16.3,0.1)
(17.0,0.1) (17.25,0.1) (17.5,0.1) (17.75,0.1) (18.0,0.1) (18.25,0.1) (30.2,0.1) (50.6,0.1)
(65.9,0.1) (66.15,0.1) (66.4,0.1) (67.9,0.1) (69.9,0.1) (70.15,0.1) (70.4,0.1) (70.65,0.1) (70.9,0.1)
(2.4,0.16) (4.9,0.2) (16.2,0.17) (70.4,0.16)
};
\addplot[pdots, iblue] coordinates {
(1.03,0.011) (3.8,0.011) (4.05,0.011) (4.3,0.011) (5.9,0.011) (7.0,0.011) (8.1,0.011) (10.3,0.011)
(10.55,0.011) (10.8,0.011) (16.0,0.011) (19.4,0.011) (21.9,0.011) (26.3,0.011) (27.2,0.011) (30.9,0.011)
(33.4,0.011) (36.3,0.011) (40.8,0.011) (41.5,0.011) (42.4,0.011) (43.3,0.011) (48.7,0.011) (54.1,0.011)
(57.8,0.011) (61.3,0.011) (70.0,0.011) (70.9,0.011)
};
\addplot[pdots, ired] coordinates {
(1.3,0.011) (5.7,0.011) (9.1,0.011) (10.0,0.011) (12.3,0.011) (15.5,0.011) (18.9,0.011) (20.1,0.011)
(21.4,0.011) (27.0,0.011) (40.6,0.011) (47.8,0.011) (54.8,0.011) (59.1,0.011)
};
\end{axis}
\begin{axis}[tickframe, at={(80pt,265pt)}, anchor=south west]
\end{axis}

% ---------------- Panel 4 ----------------
\begin{axis}[panelframe, ymode=log, at={(80pt,49pt)}, anchor=south west,
  ymin=1e-5, ymax=1e3,
  ytick={1e-4,1e-2,1,1e2},
  yticklabels={10\textsuperscript{−4},10\textsuperscript{−2},10\textsuperscript{0},10\textsuperscript{2}},
  minor ytick={1e-3,1e-1,1e1},
  ylabel={1/(cm\textsuperscript{2} s sr MeV/nuc.)},
  ylabel style={at={(axis description cs:-0.0667,0.49)}}]
\addplot[pdotsmall, black] coordinates {
(5.6,1e-4) (7.4,1e-4) (10.1,1e-4) (12.3,1e-4) (13.9,1e-4) (17.3,1e-4) (17.6,1e-4) (21.0,1e-4)
(28.9,1e-4) (37.0,1e-4) (37.3,1e-4) (43.5,1e-4) (45.2,1e-4) (46.3,1e-4) (46.8,1e-4) (48.8,1e-4)
(51.1,1e-4) (53.7,1e-4) (55.1,1e-4) (56.6,1e-4) (59.2,1e-4) (59.6,1e-4) (60.1,1e-4) (60.6,1e-4)
(61.3,1e-4) (61.8,1e-4) (62.3,1e-4) (62.8,1e-4) (63.2,1e-4) (63.7,1e-4) (64.0,1e-4) (64.8,1e-4)
(65.3,1e-4) (65.9,1e-4) (66.3,1e-4) (66.9,1e-4) (67.7,1e-4) (68.2,1e-4) (68.7,1e-4) (69.4,1e-4)
(69.9,1e-4) (70.4,1e-4)
(55.9,2e-4) (59.1,2e-4) (69.0,2e-4) (69.2,2e-4) (69.4,2e-4) (71.6,2e-4)
};
\addplot[pdotsmall, iblue] coordinates {(22.7,1e-4) (57.3,1e-4)};
\end{axis}
\begin{axis}[tickframe, at={(80pt,49pt)}, anchor=south west,
  xticklabels={26-Oct,27-Oct,28-Oct,29-Oct}, xticklabel pos=lower,
  xticklabel style={font=\fontsize{13}{15}\selectfont, anchor=base, yshift=-19pt}]
\end{axis}

% ---------------- Titles and footer ----------------
\begin{scope}[every node/.style={anchor=base west, inner sep=0pt, font=\fontsize{13}{15}\selectfont}]
\node[black] at (80pt,881.7pt) {0.035 to 0.065 MeV Electrons};
\node[iblue] at (328pt,881.7pt) {0.7 to 4.0 Mev Electrons};
\node[black] at (80pt,666pt) {0.14-0.62 MeV H};
\node[iblue] at (225pt,666pt) {0.62-2.22 MeV H};
\node[hbrown] at (368.3pt,666pt) {2.2-12 MeV H};
\node[ired] at (488.3pt,666pt) {13-100 MeV H};
\node[black] at (80pt,450pt) {0.12-1.08 MeV/n He};
\node[iblue] at (248.3pt,450pt) {0.12-1.08 MeV/n CNO};
\node[ired] at (425pt,450pt) {0.12-1.08 MeV Fe};
\node[black] at (80pt,234.3pt) {4 to 12 MeV/n He};
\node[iblue] at (232.7pt,234.3pt) {4 to 12 MeV/n CNO};
\node[ired] at (393.3pt,234.3pt) {4 to 12 MeV Fe};
\node[black] at (80pt,14.3pt) {STEREO Ahead};
\node[black] at (293.3pt,14.3pt) {Start: 26-Oct-2023 00:00 UTC};
\end{scope}
\end{tikzpicture}
\end{document}
